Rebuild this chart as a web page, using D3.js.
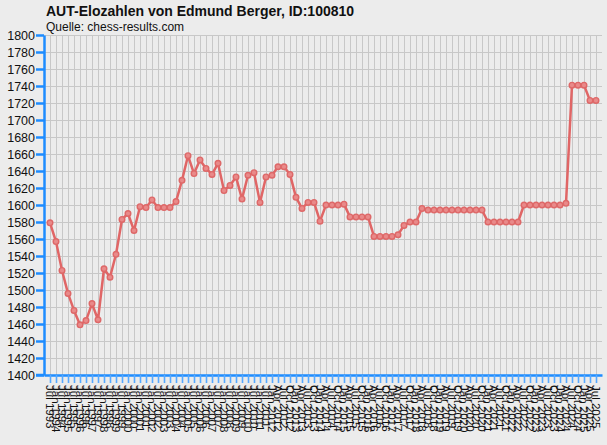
<!DOCTYPE html>
<html>
<head>
<meta charset="utf-8">
<script src="https://d3js.org/d3.v7.min.js"></script>
<style>
  body { margin: 0; background: #ececec; }
  svg { display: block; font-family: "Liberation Sans", Arial, sans-serif; }
  .grid line { stroke: #c8c8c8; stroke-width: 1; shape-rendering: crispEdges; }
  .grid path { display: none; }
</style>
</head>
<body>
<svg id="chart" width="607" height="445"></svg>
<script>

// rating lists (x categories)
var lists = ["Jul 1993", "Jan 1994", "Jul 1994", "Jan 1995", "Jul 1995", "Jan 1996", "Jul 1996",
  "Jan 1997", "Jul 1997", "Jan 1998", "Jul 1998", "Jan 1999", "Jul 1999", "Jan 2000", "Jul 2000",
  "Jan 2001", "Jul 2001", "Jan 2002", "Jul 2002", "Jan 2003", "Jul 2003", "Jan 2004", "Jul 2004",
  "Jan 2005", "Jul 2005", "Jan 2006", "Jul 2006", "Jan 2007", "Jul 2007", "Jan 2008", "Jul 2008",
  "Jan 2009", "Jul 2009", "Jan 2010", "Jul 2010", "Jan 2011", "Jul 2011", "Jan 2012",
  "Apr 2012", "Jul 2012", "Oct 2012",
  "Jan 2013", "Apr 2013", "Jul 2013", "Oct 2013",
  "Jan 2014", "Apr 2014", "Jul 2014", "Oct 2014",
  "Jan 2015", "Apr 2015", "Jul 2015", "Oct 2015",
  "Jan 2016", "Apr 2016", "Jul 2016", "Oct 2016",
  "Jan 2017", "Apr 2017", "Jul 2017", "Oct 2017",
  "Jan 2018", "Apr 2018", "Jul 2018", "Oct 2018",
  "Jan 2019", "Apr 2019", "Jul 2019", "Oct 2019",
  "Jan 2020", "Apr 2020", "Jul 2020", "Oct 2020",
  "Jan 2021", "Apr 2021", "Jul 2021", "Oct 2021",
  "Jan 2022", "Apr 2022", "Jul 2022", "Oct 2022",
  "Jan 2023", "Apr 2023", "Jul 2023", "Oct 2023",
  "Jan 2024", "Apr 2024", "Jul 2024", "Oct 2024",
  "Jan 2025", "Apr 2025", "Jul 2025"];

// rating at each list
var elo = [1579, 1557, 1523, 1496, 1476, 1459, 1464, 1484, 1465, 1525,
  1515, 1542, 1583, 1590, 1570, 1598, 1597, 1606, 1597, 1597,
  1597, 1604, 1629, 1658, 1637, 1653, 1643, 1636, 1649, 1617,
  1623, 1633, 1607, 1635, 1638, 1603, 1633, 1635, 1645, 1645,
  1636, 1609, 1596, 1603, 1603, 1581, 1600, 1600, 1600, 1601,
  1586, 1586, 1586, 1586, 1563, 1563, 1563, 1563, 1565, 1576,
  1580, 1580, 1596, 1594, 1594, 1594, 1594, 1594, 1594, 1594,
  1594, 1594, 1594, 1580, 1580, 1580, 1580, 1580, 1580, 1600,
  1600, 1600, 1600, 1600, 1600, 1600, 1602, 1741, 1741, 1741,
  1723, 1723];

var yTicks = d3.range(1400, 1801, 20);

var svg = d3.select("#chart");

var plotLeft = 44, plotRight = 602, plotTop = 35, plotBottom = 375;

var x = d3.scalePoint()
  .domain(lists)
  .range([plotLeft, plotRight])
  .padding(1);

var y = d3.scaleLinear()
  .domain([1400, 1800])
  .range([plotBottom, plotTop]);

// title
svg.append("text")
  .attr("x", 46).attr("y", 16)
  .style("font-weight", "bold")
  .style("font-size", "14px")
  .attr("fill", "#111")
  .text("AUT-Elozahlen von Edmund Berger, ID:100810");

svg.append("text")
  .attr("x", 46).attr("y", 31)
  .style("font-size", "12px")
  .attr("fill", "#111")
  .text("Quelle: chess-results.com");

// grid
svg.append("g")
  .attr("class", "grid")
  .attr("transform", "translate(" + plotLeft + ",0)")
  .call(d3.axisLeft(y).tickValues(yTicks).tickSize(-(plotRight - plotLeft)).tickFormat(""));

svg.append("g")
  .attr("class", "grid")
  .attr("transform", "translate(0," + plotBottom + ")")
  .call(d3.axisBottom(x).tickSize(-(plotBottom - plotTop)).tickFormat(""));

// y axis
var yAxis = svg.append("g")
  .attr("transform", "translate(" + plotLeft + ",0)")
  .call(d3.axisLeft(y).tickValues(yTicks).tickFormat(d3.format("d"))
    .tickSize(8).tickSizeOuter(0).tickPadding(1));

yAxis.select(".domain").attr("stroke", "#1e8cff").attr("stroke-width", 2.5);
yAxis.selectAll(".tick line").attr("stroke", "#1e8cff").attr("stroke-width", 2.5);
yAxis.selectAll(".tick text")
  .attr("fill", "#111")
  .style("font-size", "12.5px")
  .style("font-family", "'Liberation Sans', Arial, sans-serif");

// x axis
var xAxis = svg.append("g")
  .attr("transform", "translate(0," + plotBottom + ")")
  .call(d3.axisBottom(x).tickSize(8).tickSizeOuter(0));

xAxis.select(".domain").attr("stroke", "#1e8cff").attr("stroke-width", 2.5);
xAxis.selectAll(".tick line").attr("stroke", "#55a8ff").attr("stroke-width", 1.6);
xAxis.selectAll(".tick text")
  .attr("fill", "#111")
  .style("font-size", "11.5px")
  .style("font-family", "'Liberation Sans', Arial, sans-serif")
  .attr("text-anchor", "start")
  .attr("transform", "rotate(90)")
  .attr("x", 10)
  .attr("y", 0)
  .attr("dy", "0.35em");

// axis line runs a little left of the y axis, like the reference
svg.append("line")
  .attr("x1", 36).attr("x2", plotLeft)
  .attr("y1", plotBottom).attr("y2", plotBottom)
  .attr("stroke", "#1e8cff").attr("stroke-width", 2.5);

// line + points
var line = d3.line()
  .x(function(d, i) { return x(lists[i]); })
  .y(function(d) { return y(d); });

svg.append("path")
  .datum(elo)
  .attr("d", line)
  .attr("fill", "none")
  .attr("stroke", "#e06666")
  .attr("stroke-width", 2.5)
  .attr("stroke-linejoin", "round");

svg.append("g")
  .selectAll("circle")
  .data(elo)
  .enter().append("circle")
    .attr("cx", function(d, i) { return x(lists[i]); })
    .attr("cy", function(d) { return y(d); })
    .attr("r", 2.8)
    .attr("fill", "#e98a8a")
    .attr("stroke", "#de6868")
    .attr("stroke-width", 1.4);

</script>
</body>
</html>
